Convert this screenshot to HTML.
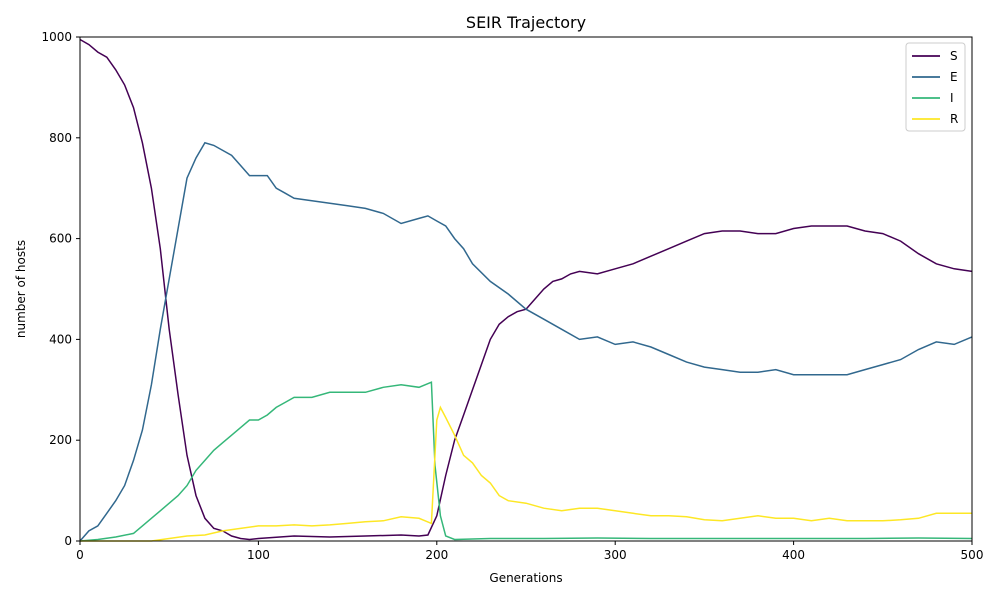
<!DOCTYPE html>
<html><head><meta charset="utf-8"><style>
body{margin:0;background:#fff;font-family:"Liberation Sans","DejaVu Sans",sans-serif;}
svg text{font-family:"DejaVu Sans","Liberation Sans",sans-serif;}
</style></head><body>
<svg id="chart" width="1000" height="600" viewBox="0 0 1000 600" xmlns="http://www.w3.org/2000/svg">
<rect width="1000" height="600" fill="#fff"/>
<text x="526" y="28" font-size="16" text-anchor="middle">SEIR Trajectory</text>
<g id="marks"></g>
<rect x="80" y="37" width="892" height="504" fill="none" stroke="#000" stroke-width="1"/>
<g id="axes"></g>
<text x="526" y="582" font-size="12" text-anchor="middle">Generations</text>
<text transform="translate(25,289) rotate(-90)" font-size="12" text-anchor="middle">number of hosts</text>
<g id="legend"></g>
</svg>
<script>
const xTicks=[0,100,200,300,400,500];
const yTicks=[0,200,400,600,800,1000];
const seriesNames=["S","E","I","R"];
const seriesColors=["#440154","#31688e","#35b779","#fde725"];
const sX=[0,5,10,15,20,25,30,35,40,45,50,55,60,65,70,75,80,85,90,95,100,120,140,160,180,190,195,200,205,210,215,220,225,230,235,240,245,250,255,260,265,270,275,280,290,300,310,320,330,340,350,360,370,380,390,400,410,420,430,440,450,460,470,480,490,500];
const sY=[995,985,970,960,935,905,860,790,700,580,420,290,170,90,45,25,20,10,5,3,5,10,8,10,12,10,12,50,130,200,250,300,350,400,430,445,455,460,480,500,515,520,530,535,530,540,550,565,580,595,610,615,615,610,610,620,625,625,625,615,610,595,570,550,540,535];
const eX=[0,5,10,15,20,25,30,35,40,45,50,55,60,65,70,75,80,85,90,95,100,105,110,115,120,130,140,150,160,170,180,190,195,200,205,210,215,220,230,240,250,260,270,280,290,300,310,320,330,340,350,360,370,380,390,400,410,420,430,440,450,460,470,480,490,500];
const eY=[0,20,30,55,80,110,160,220,310,420,520,620,720,760,790,785,775,765,745,725,725,725,700,690,680,675,670,665,660,650,630,640,645,635,625,600,580,550,515,490,460,440,420,400,405,390,395,385,370,355,345,340,335,335,340,330,330,330,330,340,350,360,380,395,390,405];
const iX=[0,10,20,30,35,40,45,50,55,60,65,70,75,80,85,90,95,100,105,110,115,120,130,140,150,160,170,180,190,197,199,202,205,210,230,260,290,320,350,380,410,440,470,500];
const iY=[0,3,8,15,30,45,60,75,90,110,140,160,180,195,210,225,240,240,250,265,275,285,285,295,295,295,305,310,305,315,150,50,10,3,5,5,6,5,5,5,5,5,6,5];
const rX=[0,40,50,60,70,80,90,100,110,120,130,140,150,160,170,180,190,197,200,202,205,210,215,220,225,230,235,240,250,260,270,280,290,300,310,320,330,340,350,360,370,380,390,400,410,420,430,440,450,460,470,480,490,500];
const rY=[0,0,5,10,12,20,25,30,30,32,30,32,35,38,40,48,45,35,240,265,245,210,170,155,130,115,90,80,75,65,60,65,65,60,55,50,50,48,42,40,45,50,45,45,40,45,40,40,40,42,45,55,55,55];
const xs=v=>80+v*892/500, ys=v=>541-v*504/1000;
const NS="http://www.w3.org/2000/svg";
const marks=document.getElementById('marks'), axes=document.getElementById('axes'), leg=document.getElementById('legend');
function mk(t,a,p){const e=document.createElementNS(NS,t);for(const k in a)e.setAttribute(k,a[k]);p.appendChild(e);return e;}
const data=[[sX,sY],[eX,eY],[iX,iY],[rX,rY]];
data.forEach((d,i)=>{
 const p=mk('path',{d:d[0].map((x,j)=>(j?'L':'M')+xs(x).toFixed(1)+','+ys(d[1][j]).toFixed(1)).join(''),fill:'none',stroke:seriesColors[i],'stroke-width':1.5},marks);
 
 
});
xTicks.forEach(t=>{
 const l=mk('line',{x1:xs(t),x2:xs(t),y1:541,y2:545,stroke:'#000'},axes);
 
 
 const tx=mk('text',{x:xs(t),y:559,'font-size':12,'text-anchor':'middle'},axes);tx.textContent=t;
 
 
});
yTicks.forEach(t=>{
 const l=mk('line',{x1:76,x2:80,y1:ys(t),y2:ys(t),stroke:'#000'},axes);
 
 
 const tx=mk('text',{x:72,y:ys(t)+4,'font-size':12,'text-anchor':'end'},axes);tx.textContent=t;
 
 
});
const lb=mk('rect',{x:906,y:43,width:59,height:88,rx:3,fill:'#fff',stroke:'#ccc'},leg);


seriesNames.forEach((n,i)=>{
 const y=56+i*21;
 const g=mk('g',{},leg);
 
 
 mk('line',{x1:912,x2:940,y1:y,y2:y,stroke:seriesColors[i],'stroke-width':1.8},g);
 const t=mk('text',{x:950,y:y+4,'font-size':12},g);t.textContent=n;
});
</script>
</body></html>
